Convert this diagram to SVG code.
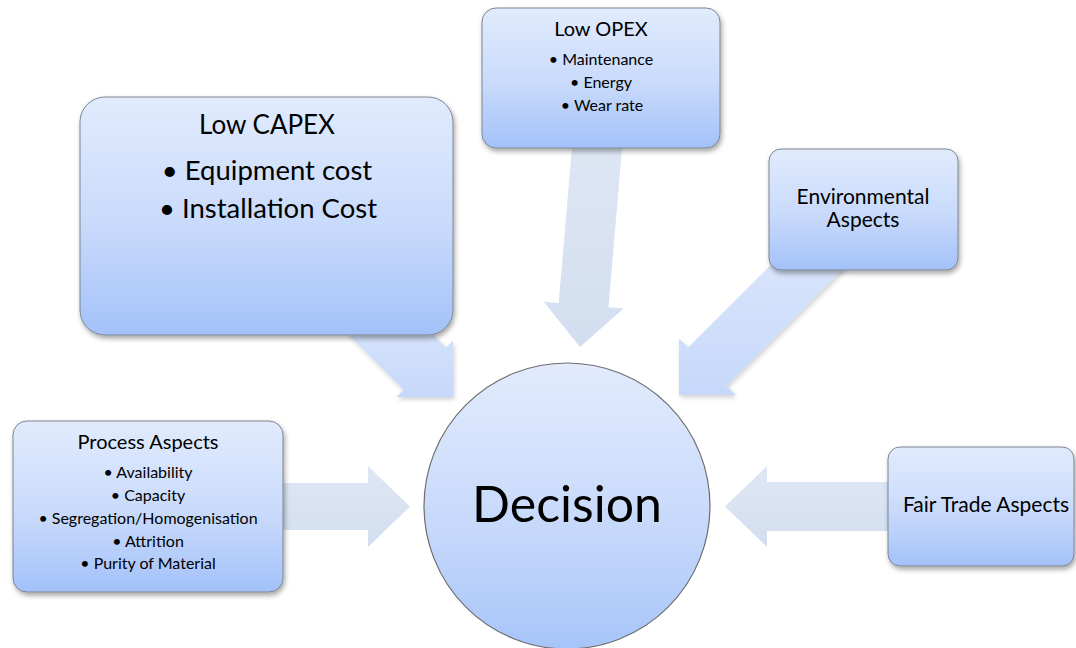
<svg xmlns="http://www.w3.org/2000/svg" width="1076" height="648" viewBox="0 0 1076 648">
  <style>
    .box { fill: url(#nodeFill); stroke: #7d8591; stroke-width: 1; filter: url(#shadow); }
    .txt { font-family: Lato, "Open Sans", "Liberation Sans", sans-serif; fill: #000; text-anchor: middle; }
    .arrowA { fill: url(#arrowBlue); }
    .arrowB { fill: url(#arrowGrey); }
  </style>
  <defs>
    <linearGradient id="nodeFill" x1="0" y1="0" x2="0" y2="1">
      <stop offset="0" stop-color="#e1ebfd"/>
      <stop offset="0.55" stop-color="#c8dafb"/>
      <stop offset="1" stop-color="#a3c1f9"/>
    </linearGradient>
    <linearGradient id="circleFill" x1="0" y1="0" x2="0" y2="1">
      <stop offset="0" stop-color="#e2ebfd"/>
      <stop offset="0.6" stop-color="#c5d8fb"/>
      <stop offset="1" stop-color="#a7c4f9"/>
    </linearGradient>
    <linearGradient id="arrowBlue" x1="0" y1="0" x2="0" y2="1">
      <stop offset="0" stop-color="#dde8fb"/>
      <stop offset="1" stop-color="#c6d8fa"/>
    </linearGradient>
    <linearGradient id="arrowGrey" x1="0" y1="0" x2="0" y2="1">
      <stop offset="0" stop-color="#dfe7f4"/>
      <stop offset="1" stop-color="#d2deef"/>
    </linearGradient>
    <filter id="shadow" x="-10%" y="-10%" width="125%" height="130%">
      <feDropShadow dx="1.5" dy="3" stdDeviation="2.5" flood-color="#000" flood-opacity="0.35"/>
    </filter>
    <filter id="softShadow" x="-10%" y="-10%" width="125%" height="130%">
      <feDropShadow dx="1.5" dy="2.5" stdDeviation="2" flood-color="#000" flood-opacity="0.18"/>
    </filter>
  </defs>

  <!-- block arrows pointing into the decision circle -->
  <g id="connectors">
    <polygon id="arrow-capex" class="arrowA" filter="url(#softShadow)" points="346.9,333.3 403.5,389.9 396.4,397 453,397 453,340.4 445.9,347.5 389.3,290.9"/>
    <polygon id="arrow-opex" class="arrowB" points="573.8,125.7 558.7,303.1 543.7,301.8 580,347 623.5,308.6 608.5,307.3 623.6,129.9"/>
    <polygon id="arrow-env" class="arrowA" filter="url(#softShadow)" points="815.5,220.3 688.2,347.6 679,338.4 679,395 735.6,395 726.4,385.8 853.7,258.5"/>
    <polygon id="arrow-process" class="arrowB" points="270,483 368,483 368,466 410,506.5 368,547 368,530 270,530"/>
    <polygon id="arrow-fairtrade" class="arrowB" points="900,482 767,482 767,466 725,506.5 767,547 767,531 900,531"/>
  </g>

  <g id="node-capex">
    <rect class="box" x="80" y="97" width="373" height="238" rx="25"/>
    <text class="txt" x="267" y="134" font-size="26">Low CAPEX</text>
    <text class="txt" x="267" y="180" font-size="27.5">• Equipment cost</text>
    <text class="txt" x="268" y="218" font-size="27.5">• Installation Cost</text>
  </g>

  <g id="node-opex">
    <rect class="box" x="482" y="8" width="238" height="140" rx="14"/>
    <text class="txt" x="601" y="36" font-size="20">Low OPEX</text>
    <text class="txt" x="601" y="65" font-size="16">• Maintenance</text>
    <text class="txt" x="601" y="88" font-size="16">• Energy</text>
    <text class="txt" x="602" y="111" font-size="16">• Wear rate</text>
  </g>

  <g id="node-environmental">
    <rect class="box" x="769" y="149" width="189" height="121" rx="12"/>
    <text class="txt" x="863" y="204" font-size="21">Environmental</text>
    <text class="txt" x="863" y="227" font-size="21">Aspects</text>
  </g>

  <g id="node-process">
    <rect class="box" x="13" y="421" width="270" height="171" rx="14"/>
    <text class="txt" x="148" y="449" font-size="20">Process Aspects</text>
    <text class="txt" x="148" y="478" font-size="16">• Availability</text>
    <text class="txt" x="148" y="501" font-size="16">• Capacity</text>
    <text class="txt" x="148" y="524" font-size="16">• Segregation/Homogenisation</text>
    <text class="txt" x="148" y="547" font-size="16">• Attrition</text>
    <text class="txt" x="148" y="569" font-size="16">• Purity of Material</text>
  </g>

  <g id="node-fairtrade">
    <rect class="box" x="888" y="447" width="186" height="119" rx="12"/>
    <text class="txt" x="986" y="512" font-size="21">Fair Trade Aspects</text>
  </g>

  <g id="node-decision">
    <circle cx="567" cy="506" r="143" fill="url(#circleFill)" stroke="#6e6e6e" stroke-width="1.2"/>
    <text class="txt" x="567" y="522" font-size="50">Decision</text>
  </g>
</svg>
